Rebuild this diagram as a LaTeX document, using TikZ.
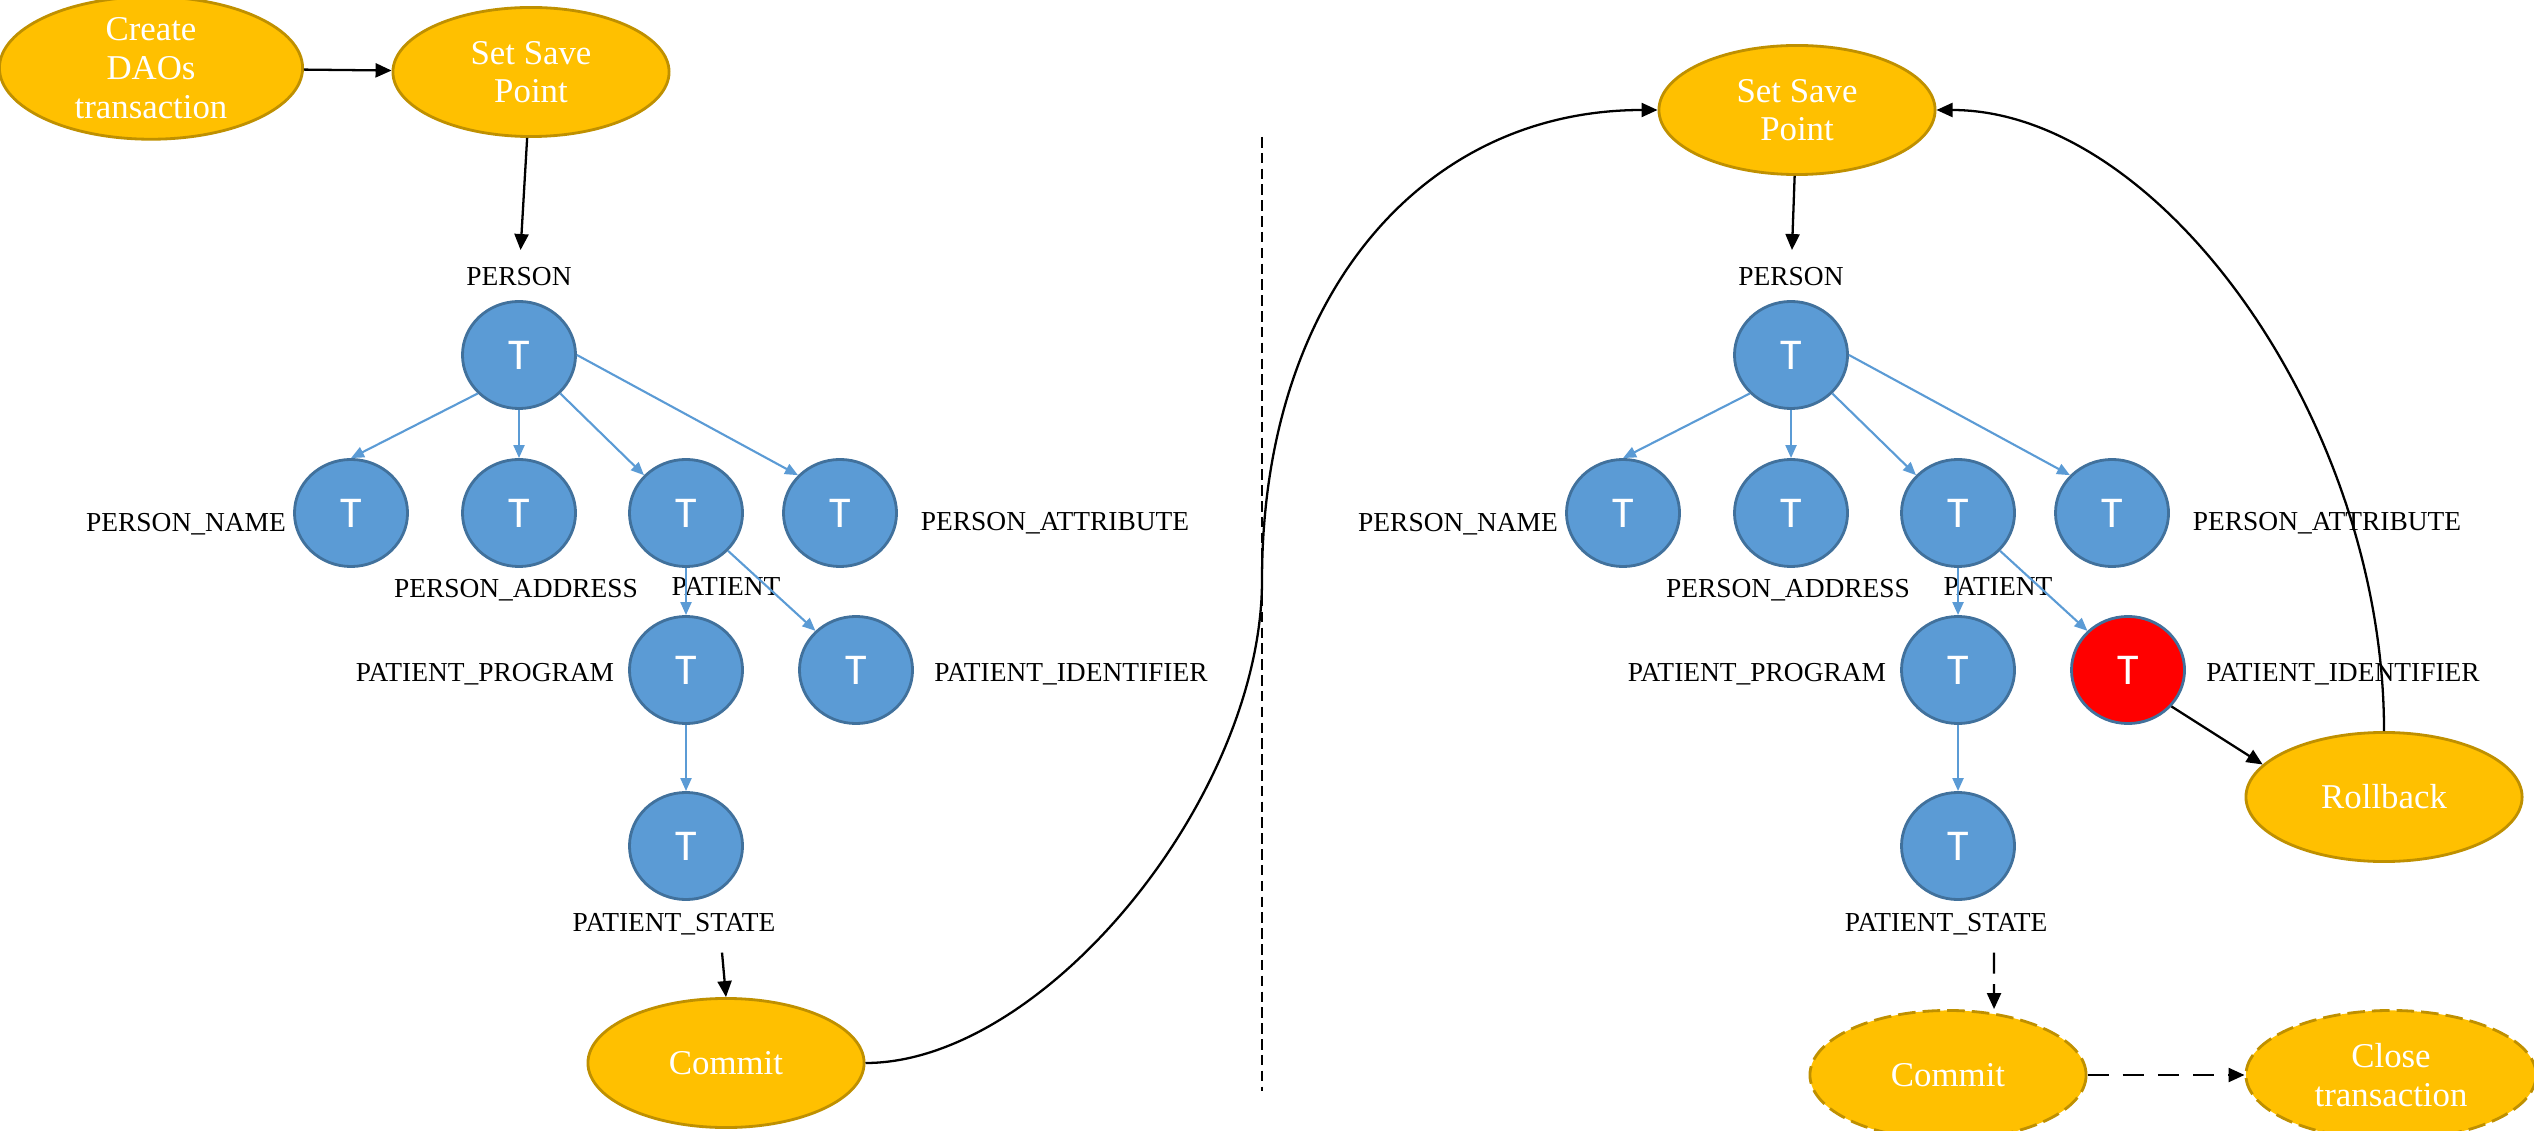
\documentclass[tikz,border=0pt]{standalone}
\usepackage{fontspec}
\setmainfont{Liberation Serif}
\newfontfamily\tfont{Carlito}
\usepackage{tikz}
\usetikzlibrary{arrows.meta,shapes.geometric,positioning}
\definecolor{gold}{HTML}{FFC000}
\definecolor{golddark}{HTML}{BF9000}
\definecolor{tblue}{HTML}{5B9BD5}
\definecolor{tbluedark}{HTML}{41719C}
\tikzstyle{vertex}=[draw=tbluedark,fill=tblue,ellipse,line width=0.8pt,minimum width=1.13cm,minimum height=1.07cm,inner sep=0pt,text=white,font=\tfont\fontsize{12.5}{14}\selectfont]
\tikzstyle{stage}=[draw=golddark,fill=gold,ellipse,line width=0.8pt,minimum width=2.76cm,minimum height=1.29cm,inner sep=0pt,text=white,align=center,font=\fontsize{9.9}{11}\selectfont]
\tikzstyle{maybe}=[dash pattern=on 5pt off 2pt]
\tikzstyle{lbl}=[inner sep=1.7mm,font=\fontsize{7.8}{9}\selectfont]
\tikzstyle{flow}=[line width=0.65pt,-{Triangle[length=1.6mm,width=1.4mm]}]
\tikzstyle{tlink}=[draw=tblue,line width=0.6pt,-{Triangle[length=1.3mm,width=1.1mm]}]

\begin{document}
\begin{tikzpicture}[x=0.01cm,y=-0.01cm]
\useasboundingbox (0,0) rectangle (2534,1131);
% first run
\node [stage,minimum width=3.03cm] (create) at (151,68) {Create\\DAOs\\transaction};
\node [stage] (ssp1) at (531,72) {Set Save\\Point};
\node [lbl] (perlbl1) at (519,277) {PERSON};
\node [vertex] (person1) at (519,355) {T};
\node [vertex] (name1) at (351,513) {T};
\node [vertex] (addr1) at (519,513) {T};
\node [vertex] (pat1) at (686,513) {T};
\node [vertex] (attr1) at (840,513) {T};
\node [vertex] (prog1) at (686,670) {T};
\node [vertex] (ident1) at (856,670) {T};
\node [vertex] (state1) at (686,846) {T};
\node [lbl] (namelbl1) at (186,524) {PERSON\_NAME};
\node [lbl] (addrlbl1) at (516,590) {PERSON\_ADDRESS};
\node [lbl] (patlbl1) at (726,586) {PATIENT};
\node [lbl] (attrlbl1) at (1055,523) {PERSON\_ATTRIBUTE};
\node [lbl] (proglbl1) at (485,674) {PATIENT\_PROGRAM};
\node [lbl] (identlbl1) at (1071,674) {PATIENT\_IDENTIFIER};
\node [lbl] (statelbl1) at (674,924) {PATIENT\_STATE};
\node [stage] (commit1) at (726,1063) {Commit};

\draw [flow] (create) -- (ssp1);
\draw [flow] (ssp1) -- (perlbl1);
\draw [tlink] (person1.-137) -- (name1.north);
\draw [tlink] (person1.south) -- (addr1.north);
\draw [tlink] (person1.-43) -- (pat1.138);
\draw [tlink] (person1.east) -- (attr1.138);
\draw [tlink] (pat1.south) -- (prog1.north);
\draw [tlink] (pat1.-42) -- (ident1.136);
\draw [tlink] (prog1.south) -- (state1.north);
\draw [flow] ([xshift=4.8mm]statelbl1.south) -- (commit1.north);

% separator
\coordinate (septop) at (1262,137);
\coordinate (sepbot) at (1262,1091);
\draw [line width=0.4pt,dash pattern=on 3pt off 1.5pt] (septop) -- (sepbot);

% second run
\node [stage] (ssp2) at (1797,110) {Set Save\\Point};
\node [lbl] (perlbl2) at (1791,277) {PERSON};
\node [vertex] (person2) at (1791,355) {T};
\node [vertex] (name2) at (1623,513) {T};
\node [vertex] (addr2) at (1791,513) {T};
\node [vertex] (pat2) at (1958,513) {T};
\node [vertex] (attr2) at (2112,513) {T};
\node [vertex] (prog2) at (1958,670) {T};
\node [vertex,fill=red] (ident2) at (2128,670) {T};
\node [vertex] (state2) at (1958,846) {T};
\node [lbl] (namelbl2) at (1458,524) {PERSON\_NAME};
\node [lbl] (addrlbl2) at (1788,590) {PERSON\_ADDRESS};
\node [lbl] (patlbl2) at (1998,586) {PATIENT};
\node [lbl] (attrlbl2) at (2327,523) {PERSON\_ATTRIBUTE};
\node [lbl] (proglbl2) at (1757,674) {PATIENT\_PROGRAM};
\node [lbl] (identlbl2) at (2343,674) {PATIENT\_IDENTIFIER};
\node [lbl] (statelbl2) at (1946,924) {PATIENT\_STATE};
\node [stage] (rollback) at (2384,797) {Rollback};
\node [stage,maybe] (commit2) at (1948,1075) {Commit};
\node [stage,maybe,minimum width=2.9cm] (close) at (2391,1075) {Close\\transaction};

\draw [flow] (ssp2) -- (perlbl2);
\draw [tlink] (person2.-137) -- (name2.north);
\draw [tlink] (person2.south) -- (addr2.north);
\draw [tlink] (person2.-43) -- (pat2.138);
\draw [tlink] (person2.east) -- (attr2.138);
\draw [tlink] (pat2.south) -- (prog2.north);
\draw [tlink] (pat2.-42) -- (ident2.136);
\draw [tlink] (prog2.south) -- (state2.north);
\draw [flow] (ident2.-40) -- (rollback.165);
\draw [flow,dash pattern=on 6pt off 3pt] ([xshift=4.8mm]statelbl2.south) -- ([xshift=4.6mm]commit2.north);
\draw [flow,dash pattern=on 6pt off 4pt] (commit2) -- (close);

% back to the save point
\coordinate (bend) at (1262,580);
\draw [flow] (commit1.east) .. controls (1044,1063) and (1262,797) .. (bend)
  .. controls (1262,298) and (1421,110) .. (ssp2.west);
\draw [flow] (rollback.north) .. controls (2384,421) and (2160,110) .. (ssp2.east);
\end{tikzpicture}
\end{document}
